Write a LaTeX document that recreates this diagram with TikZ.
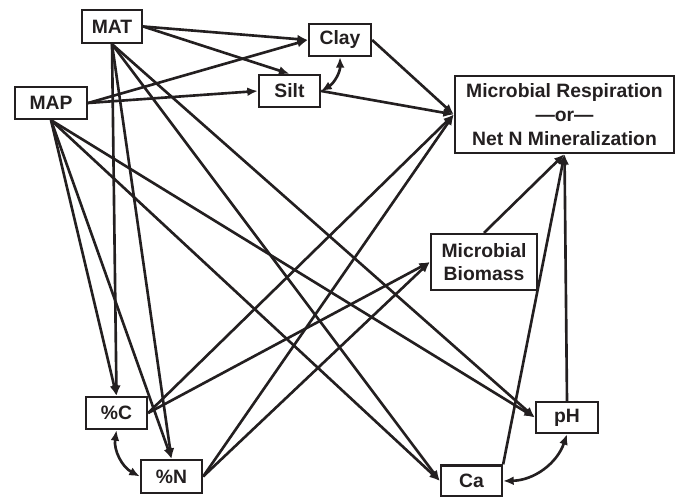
\documentclass[tikz,border=0pt]{standalone}
\usepackage{fontspec}
\setmainfont{Liberation Sans}
\usetikzlibrary{arrows.meta}
\definecolor{ink}{HTML}{231F20}
\begin{document}
\begin{tikzpicture}[
  box/.style={draw=ink, text=ink, line width=1.3pt, font=\fontsize{11}{13.5}\selectfont\bfseries,
    minimum height=0.64cm, inner sep=1pt, align=center},
  arr/.style={draw=ink, line width=1.5pt, -{Latex[length=6pt,width=5pt]}},
  dbl/.style={draw=ink, line width=1.5pt, {Latex[length=6pt,width=5pt]}-{Latex[length=6pt,width=5pt]}}]
\useasboundingbox (0,0) rectangle (13.6,9.94);
% variables
\node[box, minimum width=1.20cm, minimum height=0.66cm] (mat) at (2.24,9.41) {MAT};
\node[box, minimum width=1.44cm] (map) at (1.02,7.88) {MAP};
\node[box, minimum width=1.24cm] (clay) at (6.80,9.14) {Clay};
\node[box, minimum width=1.22cm] (silt) at (5.79,8.12) {Silt};
\node[box, minimum width=4.38cm, minimum height=1.54cm] (resp) at (11.29,7.65)
  {Microbial Respiration\\—or—\\Net N Mineralization};
\node[box, minimum width=2.12cm, minimum height=1.12cm] (mbio) at (9.68,4.70) {Microbial\\Biomass};
\node[box, minimum width=1.22cm] (pc) at (2.33,1.68) {\%C};
\node[box, minimum width=1.22cm, minimum height=0.66cm] (pn) at (3.43,0.41) {\%N};
\node[box, minimum width=1.24cm, minimum height=0.62cm] (ph) at (11.34,1.59) {pH};
\node[box, minimum width=1.22cm, minimum height=0.62cm] (ca) at (9.43,0.32) {Ca};
% climate paths
\draw[arr] (mat.east) -- (clay.west);
\draw[arr] (mat.east) -- (silt.north);
\draw[arr] (map.east) -- (clay.west);
\draw[arr] (map.east) -- (silt.west);
\foreach \src in {mat,map} {
  \draw[arr] (\src.south) -- (pc.north);
  \draw[arr] (\src.south) -- (pn.north);
  \draw[arr] (\src.south) -- (ca.west);
  \draw[arr] (\src.south) -- (ph.west);
}
% soil paths
\draw[arr] (clay.east) -- (resp.west);
\draw[arr] (silt.east) -- (resp.west);
\draw[arr] (pc.east) -- (resp.west);
\draw[arr] (pn.east) -- (resp.west);
\draw[arr] (pc.east) -- (mbio.west);
\draw[arr] (pn.east) -- (mbio.west);
\draw[arr] (mbio.north) -- (resp.south);
\draw[arr] (ca.north east) -- (resp.south);
\draw[arr] (ph.north) -- (resp.south);
% correlations
\draw[dbl] (clay.south) to[bend left=30] (silt.east);
\draw[dbl] (pc.south) to[bend right=35] (pn.west);
\draw[dbl] (ph.south) to[bend left=35] (ca.east);
\end{tikzpicture}
\end{document}
